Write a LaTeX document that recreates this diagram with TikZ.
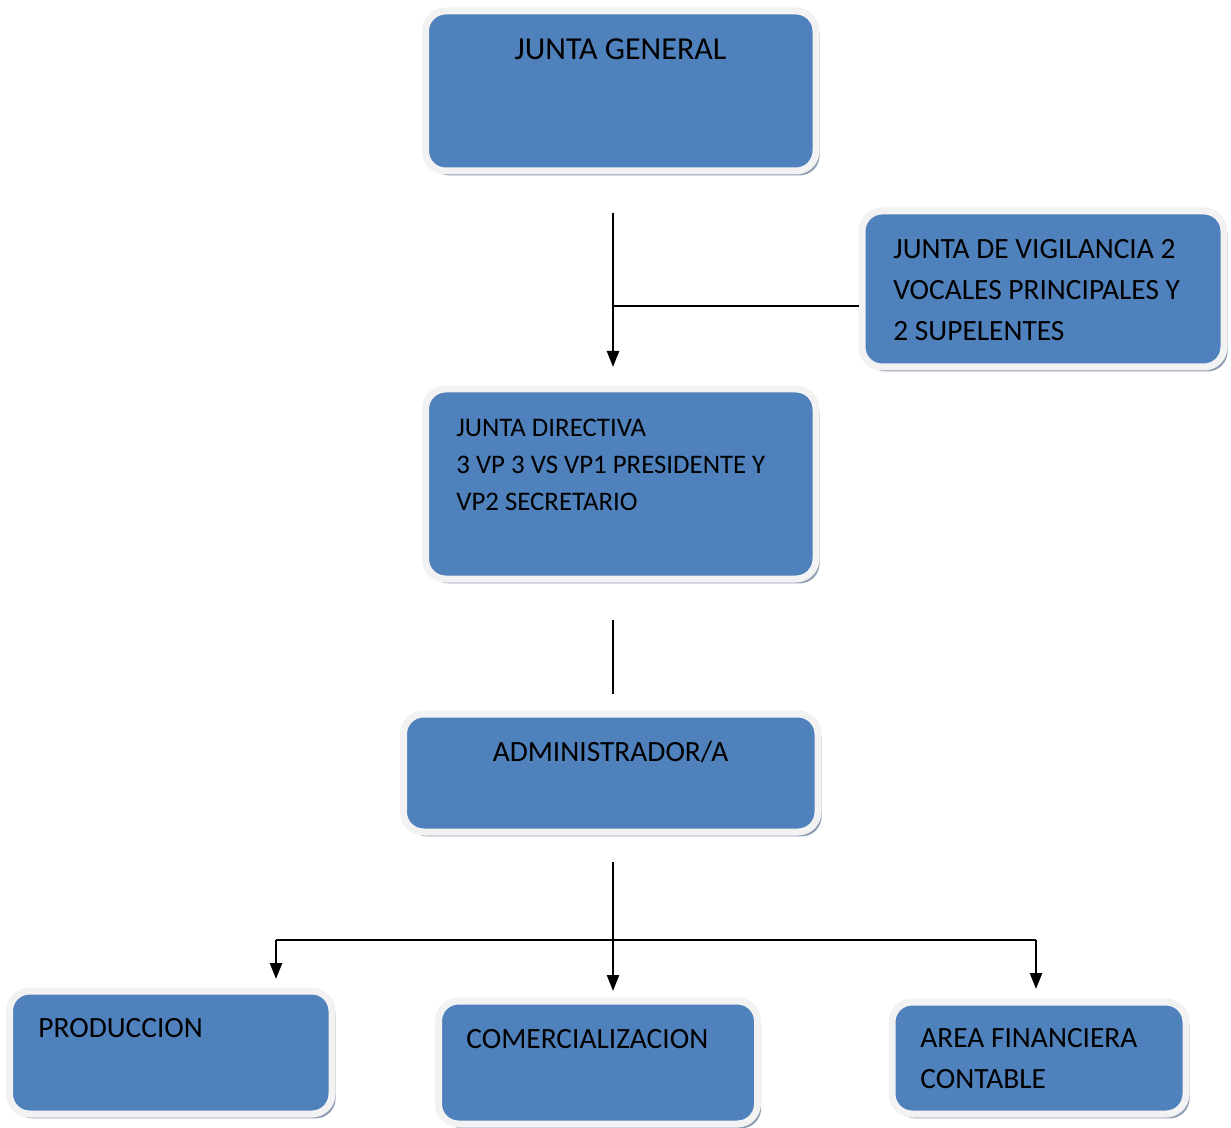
\documentclass[tikz,border=0pt]{standalone}
\usepackage{fontspec}
\setmainfont{Carlito}
\usetikzlibrary{fit,arrows.meta,positioning,calc,shadows}
\definecolor{boxblue}{HTML}{4F81BD}
\definecolor{boxrim}{HTML}{F2F2F2}
\definecolor{boxshade}{HTML}{8E9CB2}
\tikzstyle{unit}=[rectangle, rounded corners=10pt, fill=boxblue, draw=boxrim, line width=3.5pt, inner sep=0pt, drop shadow={shadow xshift=1.8pt, shadow yshift=-2.2pt, fill=boxshade, opacity=1}]
\tikzstyle{caption}=[inner sep=0pt, font=\fontsize{14.7}{20.5}\selectfont, align=left]
\tikzstyle{flow}=[line width=1.2pt, -{Triangle[width=6pt,length=8pt]}]

\begin{document}
\begin{tikzpicture}[x=0.5pt, y=-0.5pt]
	\useasboundingbox (0,0) rectangle (1231,1128);

	\node[unit, fit={(425.5,11) (816,171)}] (gen) {};
	\node[unit, fit={(862,211) (1224,367)}] (vig) {};
	\node[unit, fit={(425.5,389) (816,579)}] (dir) {};
	\node[unit, fit={(403.5,714) (818,832)}] (adm) {};
	\node[unit, fit={(9.5,991) (332,1114)}] (prod) {};
	\node[unit, fit={(438.5,1001) (757.5,1124)}] (com) {};
	\node[unit, fit={(892,1002) (1186,1114)}] (fin) {};

	% last baseline of each text
	\node[caption, anchor=base, font=\fontsize{16}{20.5}\selectfont] (gentxt) at (620.5,60) {JUNTA GENERAL};
	\node[caption, anchor=base west] (vigtxt) at (893,341) {JUNTA DE VIGILANCIA 2\\VOCALES PRINCIPALES Y\\2 SUPELENTES};
	\node[caption, anchor=base west, font=\fontsize{13.4}{18.5}\selectfont] (dirtxt) at (456,510) {JUNTA DIRECTIVA\\3 VP 3 VS VP1 PRESIDENTE Y\\VP2 SECRETARIO};
	\node[caption, anchor=base] (admtxt) at (610.5,761) {ADMINISTRADOR/A};
	\node[caption, anchor=base west] (prodtxt) at (38,1037) {PRODUCCION};
	\node[caption, anchor=base west] (comtxt) at (466,1048) {COMERCIALIZACION};
	\node[caption, anchor=base west] (fintxt) at (920,1088) {AREA FINANCIERA\\CONTABLE};

	\coordinate (top1) at (613,213);
	\coordinate (end1) at (613,367);
	\coordinate (tee) at (613,306);
	\coordinate (top2) at (613,620);
	\coordinate (end2) at (613,694);
	\coordinate (top3) at (613,862);
	\coordinate (end3) at (613,991);
	\coordinate (left) at (276,940);
	\coordinate (right) at (1036,940);

	\draw[flow] (top1) -- (end1);
	\draw[line width=1.2pt] (tee) -- (tee -| vig.west);
	\draw[line width=1.2pt] (top2) -- (end2);
	\draw[flow] (top3) -- (end3);
	\draw[line width=1.2pt] (left) -- (right);
	\draw[flow] (left) -- ++(0,39);
	\draw[flow] (right) -- ++(0,49);

\end{tikzpicture}
\end{document}
